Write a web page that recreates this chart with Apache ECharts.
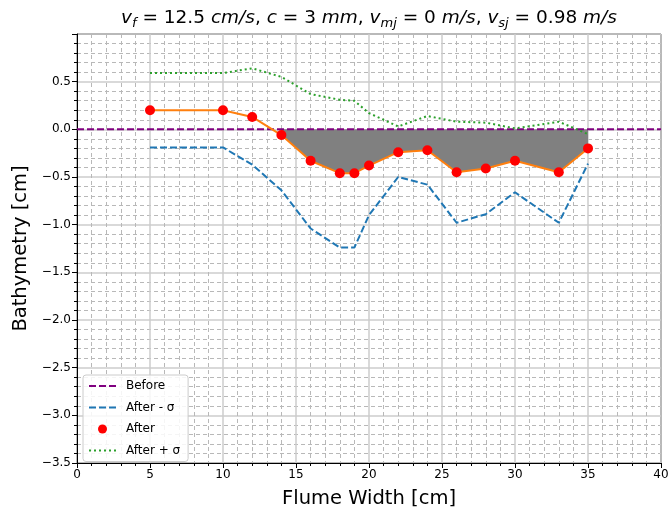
<!DOCTYPE html>
<html lang="en">
<head>
    <meta charset="UTF-8">
    <title>Bathymetry</title>
    <script src="https://cdn.jsdelivr.net/npm/echarts@6/dist/echarts.min.js"></script>
    <style>
    html, body { margin: 0; padding: 0; background: #fff; }
    #chart { width: 671px; height: 509px; }
    </style>
</head>
<body>
    <div id="chart"></div>
    <script>
        // measured points across the flume [cm]
        var widthCm = [5, 10, 12, 14, 16, 18, 19, 20, 22, 24, 26, 28, 30, 33, 35];
        var after = [0.20, 0.20, 0.13, -0.06, -0.33, -0.46, -0.46, -0.38, -0.24, -0.22, -0.45, -0.41, -0.33, -0.45, -0.20];
        var afterMinus = [-0.19, -0.19, -0.37, -0.64, -1.04, -1.24, -1.24, -0.90, -0.50, -0.58, -0.98, -0.89, -0.66, -0.98, -0.36];
        var afterPlus = [0.59, 0.59, 0.64, 0.55, 0.37, 0.31, 0.30, 0.17, 0.03, 0.14, 0.08, 0.07, 0.01, 0.08, -0.05];
        var beforeX = [0, 40];
        var beforeY = [0, 0];
        var yTicks = [-3.5, -3.0, -2.5, -2.0, -1.5, -1.0, -0.5, 0.0, 0.5];

        function pairs(xs, ys) {
            return xs.map(function (x, i) { return [x, ys[i]]; });
        }
        // scour area: only where the bed went below the initial level
        var fillData = [];
        widthCm.forEach(function (x, i) {
            if (after[i] < 0) fillData.push([x, after[i]]);
        });

        var font = 'DejaVu Sans';
        var myChart = echarts.init(document.getElementById('chart'));
        var option = {
            animation: false,
            grid: {
                left: 77, right: 10, top: 34, bottom: 46,
                outerBoundsMode: 'none', containLabel: false,
                show: true, borderColor: '#000', borderWidth: 1
            },
            graphic: [{
                type: 'text',
                x: 369, y: 18,
                style: {
                    text: '{i|v}{s|f}{n| = 12.5 }{i|cm/s}{n|, }{i|c}{n| = 3 }{i|mm}{n|, }{i|v}{s|mj}{n| = 0 }{i|m/s}{n|, }{i|v}{s|sj}{n| = 0.98 }{i|m/s}',
                    align: 'center',
                    verticalAlign: 'middle',
                    rich: {
                        n: { fontFamily: font, fontSize: 18.5, lineHeight: 24, fill: '#000' },
                        i: { fontFamily: font, fontSize: 18.5, fontStyle: 'italic', lineHeight: 24, fill: '#000' },
                        s: { fontFamily: font, fontSize: 13, fontStyle: 'italic', lineHeight: 12, verticalAlign: 'bottom', fill: '#000' }
                    }
                }
            }],
            legend: {
                orient: 'vertical',
                left: 83, top: 375,
                padding: [5, 8, 5, 5],
                itemWidth: 27, itemHeight: 9, itemGap: 9.5,
                backgroundColor: 'rgba(255,255,255,0.85)',
                borderColor: '#ccc', borderWidth: 1, borderRadius: 3,
                itemStyle: { opacity: 0 },
                textStyle: { fontFamily: font, fontSize: 12, color: '#000', padding: [0, 0, 0, 5] },
                data: [
                    { name: 'Before' },
                    { name: 'After - σ' },
                    { name: 'After', icon: 'circle', itemStyle: { opacity: 1 } },
                    { name: 'After + σ' }
                ]
            },
            xAxis: {
                type: 'value', min: 0, max: 40, interval: 5,
                name: 'Flume Width [cm]', nameLocation: 'middle', nameGap: 26,
                nameTextStyle: { fontFamily: font, fontSize: 19.5, color: '#000' },
                axisLine: { show: true, onZero: false, lineStyle: { color: '#000', width: 1 } },
                axisTick: { show: true, length: 5, lineStyle: { color: '#000' } },
                minorTick: { show: true, splitNumber: 5, length: 3, lineStyle: { color: '#000' } },
                axisLabel: { fontFamily: font, fontSize: 12, color: '#000', margin: 6 },
                splitLine: { show: true, lineStyle: { color: '#cdcdcd', width: 1.5 } },
                minorSplitLine: { show: true, lineStyle: { color: '#b8b8b8', width: 1, type: [4, 3] } }
            },
            yAxis: {
                type: 'value', min: -3.5, max: 1.0, interval: 0.5,
                name: 'Bathymetry [cm]', nameLocation: 'middle', nameGap: 46,
                nameTextStyle: { fontFamily: font, fontSize: 19.5, color: '#000' },
                axisLine: { show: true, onZero: false, lineStyle: { color: '#000', width: 1 } },
                axisTick: { show: true, length: 5, lineStyle: { color: '#000' } },
                minorTick: { show: true, splitNumber: 5, length: 3, lineStyle: { color: '#000' } },
                axisLabel: {
                    fontFamily: font, fontSize: 12, color: '#000', margin: 6,
                    formatter: function (v) {
                        var hit = yTicks.some(function (t) { return Math.abs(t - v) < 1e-6; });
                        return hit ? v.toFixed(1).replace('-', '\u2212') : '';
                    }
                },
                splitLine: { show: true, lineStyle: { color: '#cdcdcd', width: 1.5 } },
                minorSplitLine: { show: true, lineStyle: { color: '#b8b8b8', width: 1, type: [4, 3] } }
            },
            series: [
                {
                    name: 'scour', type: 'line', data: fillData,
                    symbol: 'none', lineStyle: { width: 0 },
                    areaStyle: { color: '#808080', opacity: 1 }, z: 1
                },
                {
                    name: 'Before', type: 'line', data: pairs(beforeX, beforeY),
                    symbol: 'none', color: '#800080',
                    lineStyle: { color: '#800080', width: 2, type: [7, 3] }, z: 3
                },
                {
                    name: 'After - σ', type: 'line', data: pairs(widthCm, afterMinus),
                    symbol: 'none', color: '#1f77b4',
                    lineStyle: { color: '#1f77b4', width: 2, type: [7, 3] }, z: 3
                },
                {
                    name: 'after line', type: 'line', data: pairs(widthCm, after),
                    symbol: 'none', color: '#ff7f0e',
                    lineStyle: { color: '#ff7f0e', width: 2 }, z: 4
                },
                {
                    name: 'After', type: 'scatter', data: pairs(widthCm, after),
                    symbol: 'circle', symbolSize: 10, color: '#ff0000',
                    itemStyle: { color: '#ff0000', opacity: 1 }, z: 5
                },
                {
                    name: 'After + σ', type: 'line', data: pairs(widthCm, afterPlus),
                    symbol: 'none', color: '#2ca02c',
                    lineStyle: { color: '#2ca02c', width: 2, type: [2, 3] }, z: 3
                }
            ]
        };
        myChart.setOption(option);
    </script>
</body>
</html>
